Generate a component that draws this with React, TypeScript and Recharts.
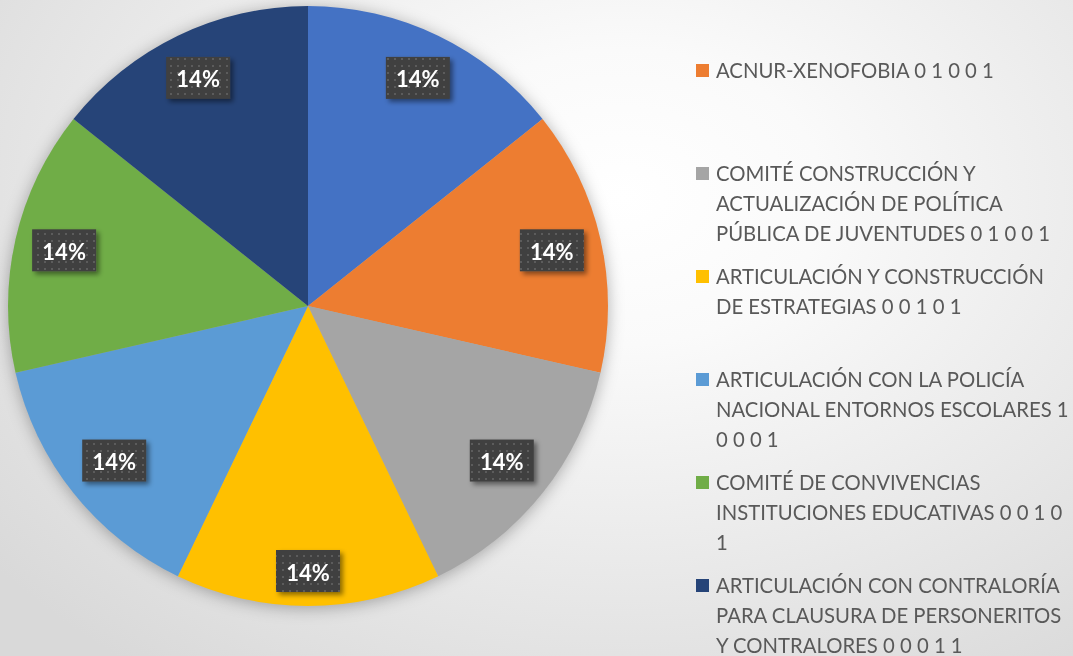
import React from 'react';
import { PieChart, Pie, Cell, Legend } from 'recharts';

const categories = [
  'ARTICULACIÓN 1 0 0 0 1',
  'ACNUR-XENOFOBIA 0 1 0 0 1',
  'COMITÉ CONSTRUCCIÓN Y ACTUALIZACIÓN DE POLÍTICA PÚBLICA DE JUVENTUDES 0 1 0 0 1',
  'ARTICULACIÓN Y CONSTRUCCIÓN DE ESTRATEGIAS 0 0 1 0 1',
  'ARTICULACIÓN CON LA POLICÍA NACIONAL ENTORNOS ESCOLARES 1 0 0 0 1',
  'COMITÉ DE CONVIVENCIAS INSTITUCIONES EDUCATIVAS 0 0 1 0 1',
  'ARTICULACIÓN CON CONTRALORÍA PARA CLAUSURA DE PERSONERITOS Y CONTRALORES 0 0 0 1 1',
];

// line breaks as they appear in the legend (first entry is scrolled out of view)
const legendLines = [
  ['ARTICULACIÓN 1 0 0 0 1'],
  ['ACNUR-XENOFOBIA 0 1 0 0 1'],
  ['COMITÉ CONSTRUCCIÓN Y', 'ACTUALIZACIÓN DE POLÍTICA', 'PÚBLICA DE JUVENTUDES 0 1 0 0 1'],
  ['ARTICULACIÓN Y CONSTRUCCIÓN', 'DE ESTRATEGIAS 0 0 1 0 1'],
  ['ARTICULACIÓN CON LA POLICÍA', 'NACIONAL ENTORNOS ESCOLARES 1', '0 0 0 1'],
  ['COMITÉ DE CONVIVENCIAS', 'INSTITUCIONES EDUCATIVAS 0 0 1 0', '1'],
  ['ARTICULACIÓN CON CONTRALORÍA', 'PARA CLAUSURA DE PERSONERITOS', 'Y CONTRALORES 0 0 0 1 1'],
];

const values = [1, 1, 1, 1, 1, 1, 1];

const colors = ['#4472C4', '#ED7D31', '#A5A5A5', '#FFC000', '#5B9BD5', '#70AD47', '#264478'];

const data = categories.map((name, i) => ({ name, value: values[i] }));

const RADIAN = Math.PI / 180;
const BOX_W = 64;
const BOX_H = 42;

const renderLabel = (props: any) => {
  const { cx, cy, midAngle, outerRadius, percent } = props;
  const c = Math.cos(-midAngle * RADIAN);
  const s = Math.sin(-midAngle * RADIAN);
  const extent = Math.abs(c) * (BOX_W / 2) + Math.abs(s) * (BOX_H / 2);
  const r = outerRadius - 14 - extent;
  const x = cx + r * c;
  const y = cy + r * s;
  return (
    <g>
      <rect
        x={x - BOX_W / 2}
        y={y - BOX_H / 2}
        width={BOX_W}
        height={BOX_H}
        fill="url(#dots)"
        filter="url(#boxShadow)"
      />
      <text
        x={x}
        y={y + 1}
        textAnchor="middle"
        dominantBaseline="central"
        fill="#ffffff"
        fontFamily="Lato, 'Open Sans', sans-serif"
        fontWeight={700}
        fontSize={22}
      >
        {`${Math.round(percent * 100)}%`}
      </text>
    </g>
  );
};

const SLOT = 103;

const renderLegend = () => (
  <div style={{ position: 'relative', width: 377, height: 656, overflow: 'hidden' }}>
    {legendLines.map((lines, i) => {
      const top = 60 + (i - 1) * SLOT;
      if (top < 0) return null;
      return (
        <div
          key={i}
          style={{
            position: 'absolute',
            left: 0,
            top,
            width: 377,
            fontFamily: "Lato, 'Open Sans', sans-serif",
            fontSize: 20.3,
            lineHeight: '20px',
            color: '#595959',
          }}
        >
          <span
            style={{
              position: 'absolute',
              left: 0,
              top: 4,
              width: 13,
              height: 13,
              background: colors[i],
            }}
          />
          {lines.map((ln, j) => (
            <div key={j} style={{ paddingLeft: 20, whiteSpace: 'nowrap', height: 20, marginBottom: 10 }}>
              {ln}
            </div>
          ))}
        </div>
      );
    })}
  </div>
);

export default function App() {
  return (
    <div
      style={{
        position: 'fixed',
        left: 0,
        top: 0,
        width: 1073,
        height: 656,
        background: 'radial-gradient(ellipse 75% 90% at 58% 30%, #ffffff 0%, #fafafa 25%, #d9d9d9 100%)',
      }}
    >
      <style>{`.recharts-pie { filter: drop-shadow(0px 2px 8px rgba(0,0,0,0.3)); }`}</style>
      <PieChart width={1073} height={656} margin={{ top: 0, right: 0, bottom: 0, left: 0 }}>
        <defs>
          <pattern id="dots" width="7" height="7" patternUnits="userSpaceOnUse">
            <rect width="7" height="7" fill="#404040" />
            <rect x="2" y="2" width="2" height="2" fill="#5c5c5c" />
          </pattern>
          <filter id="boxShadow" x="-30%" y="-30%" width="160%" height="160%">
            <feDropShadow dx="3" dy="3" stdDeviation="2.5" floodColor="#000000" floodOpacity="0.45" />
          </filter>
        </defs>
        <Pie
          data={data}
          dataKey="value"
          nameKey="name"
          cx={308}
          cy={306}
          outerRadius={300}
          startAngle={90}
          endAngle={-270}
          stroke="none"
          label={renderLabel}
          labelLine={false}
          isAnimationActive={false}
        >
          {data.map((d, i) => (
            <Cell key={d.name} fill={colors[i]} />
          ))}
        </Pie>
        <Legend
          content={renderLegend}
          wrapperStyle={{ position: 'absolute', left: 696, top: 0, width: 377, height: 656 }}
        />
      </PieChart>
    </div>
  );
}
